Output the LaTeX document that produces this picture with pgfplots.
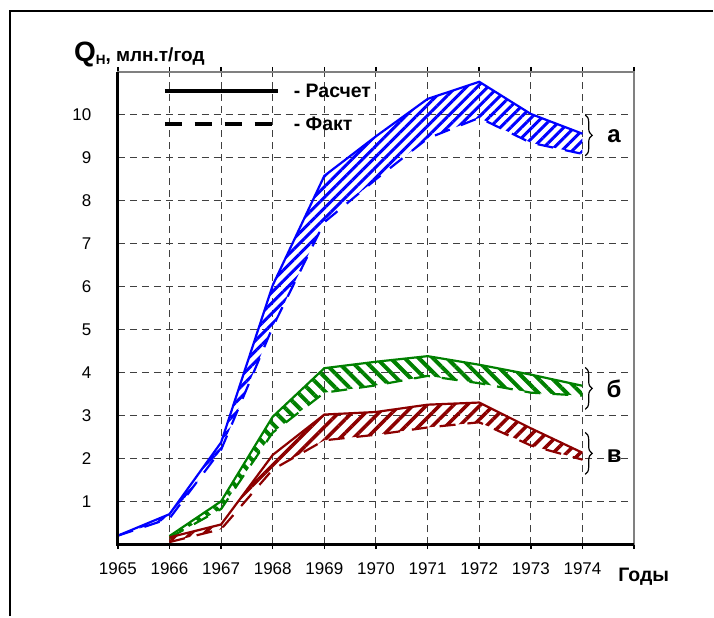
\documentclass[border=0pt]{standalone}
\usepackage{fontspec}
\setmainfont{Liberation Sans}
\usepackage{pgfplots}
\pgfplotsset{compat=1.18}
\usepgfplotslibrary{fillbetween}
\usetikzlibrary{patterns.meta,decorations.pathreplacing}
\begin{document}
\begin{tikzpicture}
\path (0pt,0pt) rectangle (714pt,617pt);
\draw[line width=2pt] (10pt,0pt) -- (10pt,606pt) -- (714pt,606pt);
\begin{axis}[
  at={(118pt,72pt)}, anchor=south west,
  scale only axis, width=517pt, height=473pt,
  xmin=1965, xmax=1975, ymin=0, ymax=11,
  xtick={1965,1966,1967,1968,1969,1970,1971,1972,1973,1974,1975},
  xticklabels={1965,1966,1967,1968,1969,1970,1971,1972,1973,1974,{}},
  ytick={1,2,3,4,5,6,7,8,9,10},
  yticklabels={1,2,3,4,5,6,7,8,9,10},
  grid=major,
  major grid style={dash pattern=on 7pt off 5pt, black!75, line width=1pt},
  axis line style={draw=black!50, line width=1.5pt},
  tick align=outside,
  major tick length=5pt,
  xtick style={black, line width=1.5pt},
  ytick style={draw=none},
  ticklabel style={font=\fontsize{17}{19}\selectfont},
  yticklabel style={xshift=-18pt},
  xticklabel style={yshift=-10pt},
  /pgf/number format/assume math mode=true,
  /pgf/number format/set thousands separator={},
  clip=false,
]
% а
\addplot[blue, line width=2.2pt, name path=aR] coordinates {(1965,0.2) (1966,0.7) (1967,2.37) (1968,6.03) (1969,8.58) (1970,9.5) (1971,10.37) (1972,10.77) (1973,10.02) (1974,9.56)};
\addplot[blue, line width=2.2pt, dash pattern=on 16pt off 12pt, name path=aF] coordinates {(1965,0.2) (1966,0.6) (1967,2.2) (1968,5.06) (1969,7.5) (1970,8.5) (1971,9.45) (1972,9.93) (1973,9.35) (1974,9.09)};
\addplot[draw=none, pattern={Lines[angle=45,distance=7.5pt,line width=3pt]}, pattern color=blue] fill between[of=aR and aF];
% б
\addplot[green!50!black, line width=2.2pt, name path=bR] coordinates {(1966,0.19) (1967,1.0) (1968,2.97) (1969,4.1) (1970,4.25) (1971,4.38) (1972,4.18) (1973,3.95) (1974,3.69)};
\addplot[green!50!black, line width=2.2pt, dash pattern=on 16pt off 12pt, name path=bF] coordinates {(1966,0.15) (1967,0.82) (1968,2.6) (1969,3.53) (1970,3.7) (1971,3.92) (1972,3.75) (1973,3.53) (1974,3.46)};
\addplot[draw=none, pattern={Lines[angle=-45,distance=10pt,line width=4pt]}, pattern color=green!50!black] fill between[of=bR and bF];
% в
\addplot[red!55!black, line width=2.2pt, name path=vR] coordinates {(1966,0.16) (1967,0.46) (1968,2.08) (1969,3.02) (1970,3.08) (1971,3.25) (1972,3.3) (1973,2.7) (1974,2.13)};
\addplot[red!55!black, line width=2.2pt, dash pattern=on 16pt off 12pt, name path=vF] coordinates {(1966,0.05) (1967,0.35) (1968,1.74) (1969,2.42) (1970,2.55) (1971,2.72) (1972,2.84) (1973,2.3) (1974,1.97)};
\addplot[draw=none, pattern={Lines[angle=45,distance=9.5pt,line width=3.5pt]}, pattern color=red!55!black] fill between[of=vR and vF];
\draw[black, line width=3pt] (rel axis cs:0,1) -- (rel axis cs:0,0) -- (rel axis cs:1,0);
\end{axis}
% legend
\draw[line width=4pt] (165pt,526pt) -- (278pt,526pt);
\draw[line width=4pt, dash pattern=on 17pt off 13pt] (165pt,493pt) -- (273pt,493pt);
\node[anchor=west, inner sep=0pt, font=\fontsize{19.5}{21}\selectfont\bfseries] at (294pt,526pt) {- Расчет};
\node[anchor=west, inner sep=0pt, font=\fontsize{19.5}{21}\selectfont\bfseries] at (294pt,493pt) {- Факт};
% y label
\node[anchor=base west, inner sep=0pt] at (74pt,555pt) {{\fontsize{28}{30}\selectfont\bfseries Q}\raisebox{-3pt}{\fontsize{13.5}{15}\selectfont\bfseries Н}{\fontsize{19}{21}\selectfont\bfseries, млн.т/год}};
% x label
\node[anchor=base west, inner sep=0pt, font=\fontsize{19.5}{21}\selectfont\bfseries] at (619pt,35pt) {Годы};
% braces
\draw[line width=1.2pt, decorate, decoration={brace, amplitude=7pt}] (586pt,502pt) -- (586pt,461pt);
\draw[line width=1.2pt, decorate, decoration={brace, amplitude=7pt}] (586pt,249pt) -- (586pt,207pt);
\draw[line width=1.2pt, decorate, decoration={brace, amplitude=7pt}] (586pt,184pt) -- (586pt,142pt);
\node[font=\fontsize{24}{26}\selectfont\bfseries] at (615pt,481pt) {а};
\node[font=\fontsize{24}{26}\selectfont\bfseries] at (615pt,228pt) {б};
\node[font=\fontsize{24}{26}\selectfont\bfseries] at (615pt,160pt) {в};
\end{tikzpicture}
\end{document}
